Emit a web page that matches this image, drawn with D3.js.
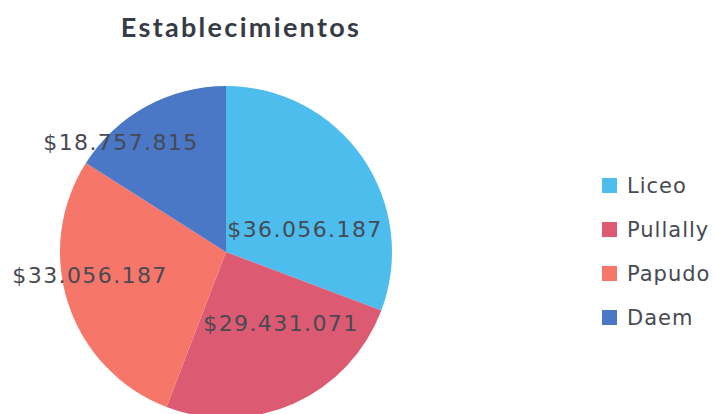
<!DOCTYPE html>
<html>
<head>
<meta charset="utf-8">
<script src="https://cdn.jsdelivr.net/npm/d3@7"></script>
<style>
  html, body { margin: 0; padding: 0; background: #ffffff; }
  svg { display: block; }
</style>
</head>
<body>
<svg id="chart" width="715" height="414"></svg>
<script>
// ---- data ----
const categories = ["Liceo", "Pullally", "Papudo", "Daem"];
const values = [36056187, 29431071, 33056187, 18757815];
const valueLabels = ["$36.056.187", "$29.431.071", "$33.056.187", "$18.757.815"];
const title = "Establecimientos";

// ---- style / layout ----
const colors = ["#4DBDEE", "#DC5B72", "#F6766A", "#4A77C6"];
const W = 715, H = 414;
const cx = 226, cy = 252, R = 166;
// label offsets from pie centre, in units of the radius (layout only)
const labelOffset = [[0.476, -0.133], [0.331, 0.428], [-0.819, 0.139], [-0.633, -0.657]];

const svg = d3.select("#chart");

const color = d3.scaleOrdinal().domain(categories).range(colors);

const pie = d3.pie().sort(null).value(d => d.value);
const arc = d3.arc().innerRadius(0).outerRadius(R);

const data = categories.map((c, i) => ({ name: c, value: values[i], label: valueLabels[i] }));
const arcs = pie(data);

const g = svg.append("g").attr("transform", `translate(${cx},${cy})`);

g.selectAll("path.slice")
  .data(arcs)
  .join("path")
  .attr("class", "slice")
  .attr("d", arc)
  .attr("fill", d => color(d.data.name));

g.selectAll("text.vlabel")
  .data(arcs)
  .join("text")
  .attr("class", "vlabel")
  .attr("x", (d, i) => labelOffset[i][0] * R)
  .attr("y", (d, i) => labelOffset[i][1] * R)
  .attr("text-anchor", "middle")
  .attr("dominant-baseline", "central")
  .attr("font-family", "DejaVu Sans, sans-serif")
  .attr("font-size", 22)
  .attr("letter-spacing", 1.4)
  .attr("fill", "#474a52")
  .text(d => d.data.label);

// title
svg.append("text")
  .attr("x", 241)
  .attr("y", 37)
  .attr("text-anchor", "middle")
  .attr("font-family", "Lato, sans-serif")
  .attr("font-weight", "bold")
  .attr("font-size", 27)
  .attr("letter-spacing", 2.3)
  .attr("fill", "#363b45")
  .text(title);

// legend
const legend = svg.append("g").attr("transform", "translate(602,178)");
const item = legend.selectAll("g.item")
  .data(categories)
  .join("g")
  .attr("class", "item")
  .attr("transform", (d, i) => `translate(0, ${i * 44})`);

item.append("rect")
  .attr("width", 15)
  .attr("height", 15)
  .attr("fill", d => color(d));

item.append("text")
  .attr("x", 25)
  .attr("y", 7.5)
  .attr("dominant-baseline", "central")
  .attr("font-family", "DejaVu Sans, sans-serif")
  .attr("font-size", 21)
  .attr("letter-spacing", 1)
  .attr("fill", "#474a52")
  .text(d => d);
</script>
</body>
</html>
